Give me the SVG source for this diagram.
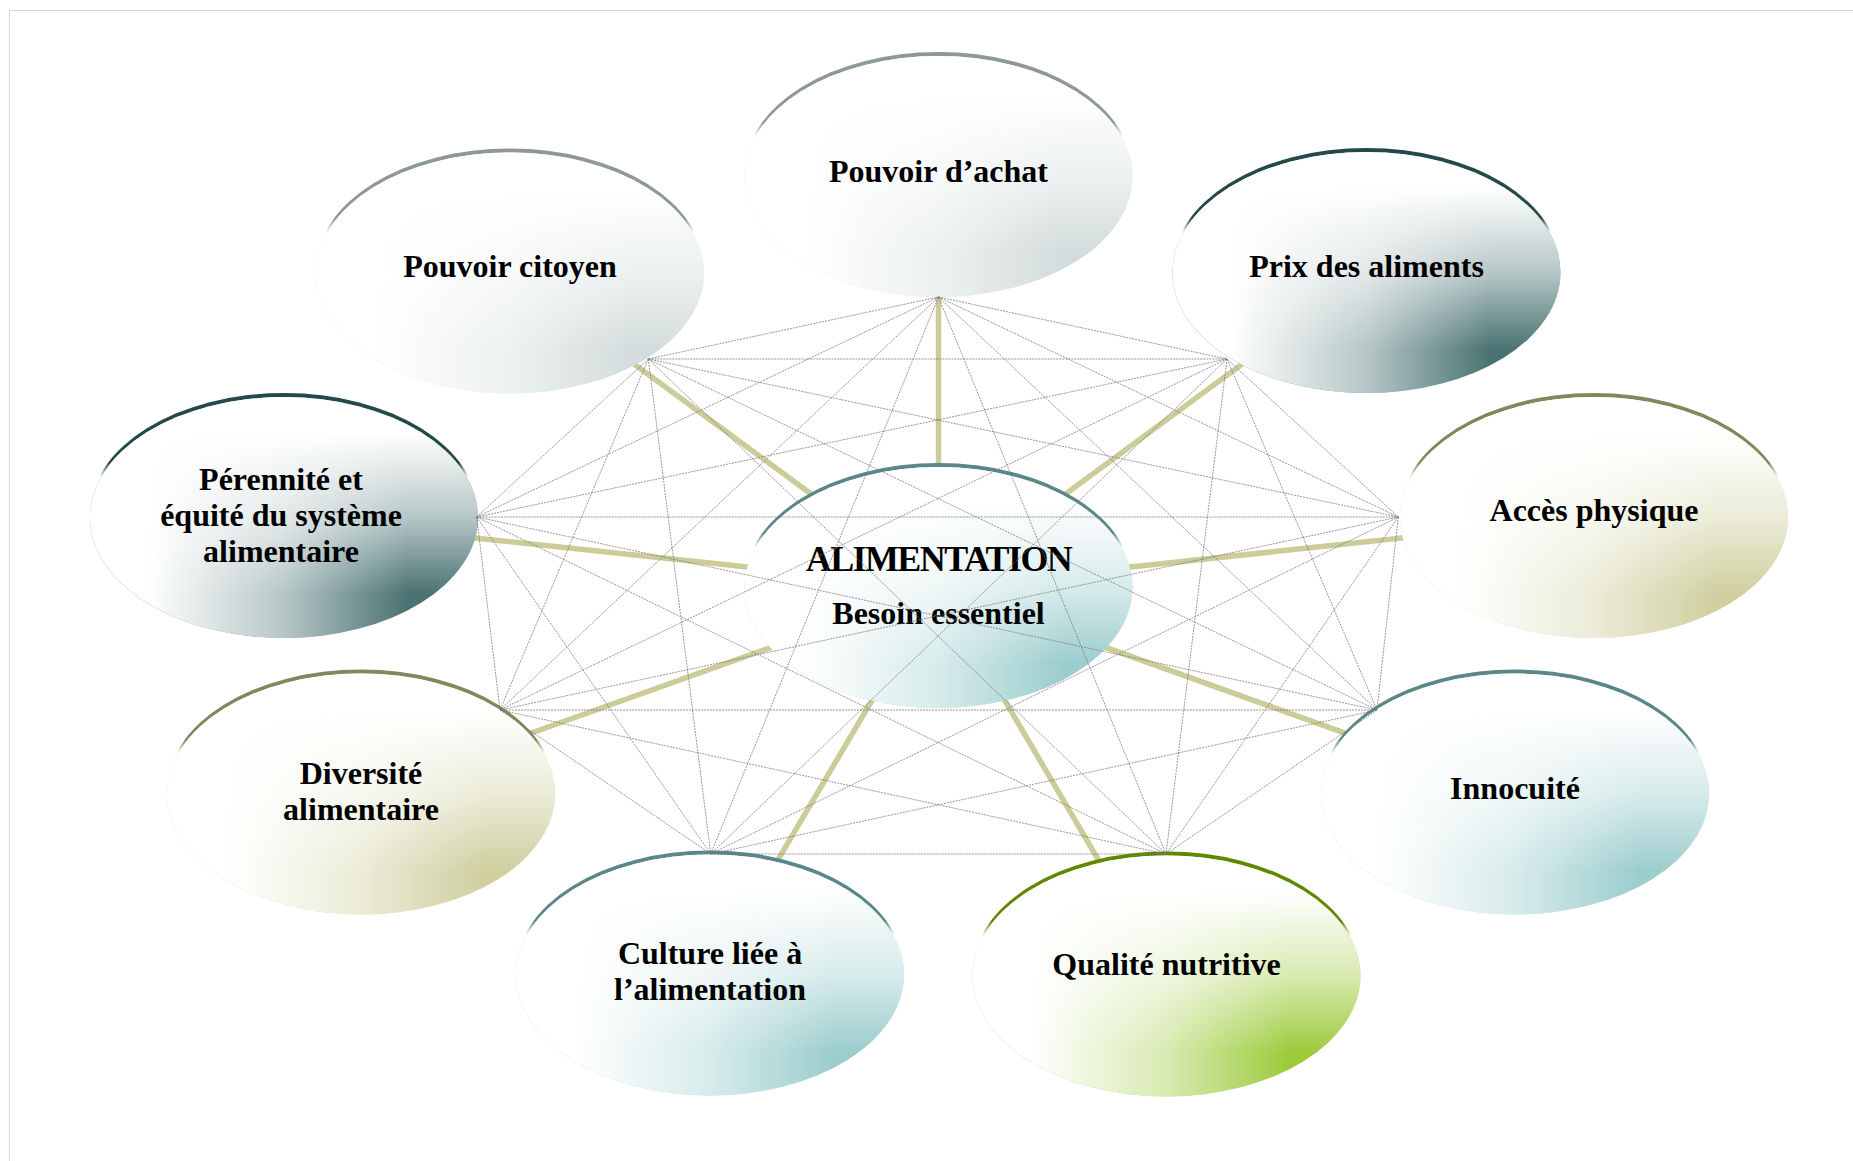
<svg xmlns="http://www.w3.org/2000/svg" xmlns:xlink="http://www.w3.org/1999/xlink" width="1853" height="1161" viewBox="0 0 1853 1161">
  <style>
    .lbl { font-family: "Liberation Serif", "Times New Roman", serif; font-weight: bold; font-size: 32px; text-anchor: middle; fill: #000; }
    .title { font-size: 36px; letter-spacing: -1.6px; }
    .spoke { stroke: #cccc99; stroke-width: 5.5; stroke-linecap: butt; fill: none; }
    .link { stroke: #747474; stroke-width: 0.75; stroke-dasharray: 2 1; fill: none; }
    .frame { fill: none; stroke: #b0b0b0; stroke-width: 1; stroke-dasharray: 1 1; }
  </style>
  <defs>
    <ellipse id="body" cx="0" cy="0" rx="194" ry="120.5"/>
    <linearGradient id="wh" x1="0" y1="0" x2="1" y2="0">
      <stop offset="0.15" stop-color="#fff" stop-opacity="1"/>
      <stop offset="0.5" stop-color="#fff" stop-opacity="0.6"/>
      <stop offset="0.82" stop-color="#fff" stop-opacity="0"/>
    </linearGradient>
    <linearGradient id="wv" x1="0" y1="0" x2="0" y2="1">
      <stop offset="0.15" stop-color="#fff" stop-opacity="1"/>
      <stop offset="0.5" stop-color="#fff" stop-opacity="0.6"/>
      <stop offset="0.82" stop-color="#fff" stop-opacity="0"/>
    </linearGradient>
    <linearGradient id="rim-gray" x1="0" y1="0" x2="0" y2="1">
      <stop offset="0.29" stop-color="#8e9898" stop-opacity="1"/>
      <stop offset="0.35" stop-color="#8e9898" stop-opacity="0"/>
    </linearGradient>
    <linearGradient id="rim-dark" x1="0" y1="0" x2="0" y2="1">
      <stop offset="0.29" stop-color="#264848" stop-opacity="1"/>
      <stop offset="0.35" stop-color="#264848" stop-opacity="0"/>
    </linearGradient>
    <linearGradient id="rim-khaki" x1="0" y1="0" x2="0" y2="1">
      <stop offset="0.29" stop-color="#85855e" stop-opacity="1"/>
      <stop offset="0.35" stop-color="#85855e" stop-opacity="0"/>
    </linearGradient>
    <linearGradient id="rim-teal" x1="0" y1="0" x2="0" y2="1">
      <stop offset="0.29" stop-color="#5a8787" stop-opacity="1"/>
      <stop offset="0.35" stop-color="#5a8787" stop-opacity="0"/>
    </linearGradient>
    <linearGradient id="rim-green" x1="0" y1="0" x2="0" y2="1">
      <stop offset="0.29" stop-color="#5f8800" stop-opacity="1"/>
      <stop offset="0.35" stop-color="#5f8800" stop-opacity="0"/>
    </linearGradient>
  </defs>

  <rect width="1853" height="1161" fill="#fff"/>
  <rect class="frame" x="9.5" y="10.5" width="2000" height="1300"/>

  <g id="spokes">
    <line class="spoke" x1="938.5" y1="176.5" x2="938.5" y2="587.5"/>
    <line class="spoke" x1="510" y1="273" x2="938.5" y2="587.5"/>
    <line class="spoke" x1="1366.5" y1="272.5" x2="938.5" y2="587.5"/>
    <line class="spoke" x1="284" y1="517.5" x2="938.5" y2="587.5"/>
    <line class="spoke" x1="1594" y1="517.5" x2="938.5" y2="587.5"/>
    <line class="spoke" x1="361" y1="794" x2="938.5" y2="587.5"/>
    <line class="spoke" x1="1515" y1="794" x2="938.5" y2="587.5"/>
    <line class="spoke" x1="710" y1="975" x2="938.5" y2="587.5"/>
    <line class="spoke" x1="1166.5" y1="976" x2="938.5" y2="587.5"/>
  </g>

  <g id="node-pouvoir-achat" transform="translate(938.5,176.5)">
    <use href="#body" y="-4" fill="url(#rim-gray)"/>
    <use href="#body" fill="#d3dcdc"/>
    <use href="#body" fill="url(#wh)"/>
    <use href="#body" fill="url(#wv)"/>
    <text class="lbl" x="0" y="5">Pouvoir d’achat</text>
  </g>

  <g id="node-pouvoir-citoyen" transform="translate(510,273)">
    <use href="#body" y="-4" fill="url(#rim-gray)"/>
    <use href="#body" fill="#d3dcdc"/>
    <use href="#body" fill="url(#wh)"/>
    <use href="#body" fill="url(#wv)"/>
    <text class="lbl" x="0" y="4">Pouvoir citoyen</text>
  </g>

  <g id="node-prix" transform="translate(1366.5,272.5)">
    <use href="#body" y="-4" fill="url(#rim-dark)"/>
    <use href="#body" fill="#4a7272"/>
    <use href="#body" fill="url(#wh)"/>
    <use href="#body" fill="url(#wv)"/>
    <text class="lbl" x="0" y="4">Prix des aliments</text>
  </g>

  <g id="node-perennite" transform="translate(284,517.5)">
    <use href="#body" y="-4" fill="url(#rim-dark)"/>
    <use href="#body" fill="#4a7272"/>
    <use href="#body" fill="url(#wh)"/>
    <use href="#body" fill="url(#wv)"/>
    <text class="lbl" x="-3" y="-28">Pérennité et</text>
    <text class="lbl" x="-3" y="8.5">équité du système</text>
    <text class="lbl" x="-3" y="44.5">alimentaire</text>
  </g>

  <g id="node-acces" transform="translate(1594,517.5)">
    <use href="#body" y="-4" fill="url(#rim-khaki)"/>
    <use href="#body" fill="#cfcf9f"/>
    <use href="#body" fill="url(#wh)"/>
    <use href="#body" fill="url(#wv)"/>
    <text class="lbl" x="0" y="3.5">Accès physique</text>
  </g>

  <g id="node-diversite" transform="translate(361,794)">
    <use href="#body" y="-4" fill="url(#rim-khaki)"/>
    <use href="#body" fill="#cfcf9f"/>
    <use href="#body" fill="url(#wh)"/>
    <use href="#body" fill="url(#wv)"/>
    <text class="lbl" x="0" y="-10">Diversité</text>
    <text class="lbl" x="0" y="26">alimentaire</text>
  </g>

  <g id="node-innocuite" transform="translate(1515,794)">
    <use href="#body" y="-4" fill="url(#rim-teal)"/>
    <use href="#body" fill="#9ccdcd"/>
    <use href="#body" fill="url(#wh)"/>
    <use href="#body" fill="url(#wv)"/>
    <text class="lbl" x="0" y="5">Innocuité</text>
  </g>

  <g id="node-culture" transform="translate(710,975)">
    <use href="#body" y="-4" fill="url(#rim-teal)"/>
    <use href="#body" fill="#9ccdcd"/>
    <use href="#body" fill="url(#wh)"/>
    <use href="#body" fill="url(#wv)"/>
    <text class="lbl" x="0" y="-11">Culture liée à</text>
    <text class="lbl" x="0" y="25">l’alimentation</text>
  </g>

  <g id="node-qualite" transform="translate(1166.5,976)">
    <use href="#body" y="-4" fill="url(#rim-green)"/>
    <use href="#body" fill="#9ccb3b"/>
    <use href="#body" fill="url(#wh)"/>
    <use href="#body" fill="url(#wv)"/>
    <text class="lbl" x="0" y="-1">Qualité nutritive</text>
  </g>

  <g id="node-alimentation" transform="translate(938.5,587.5)">
    <use href="#body" y="-4" fill="url(#rim-teal)"/>
    <use href="#body" fill="#9ccdcd"/>
    <use href="#body" fill="url(#wh)"/>
    <use href="#body" fill="url(#wv)"/>
    <text class="lbl title" x="0" y="-17">ALIMENTATION</text>
    <text class="lbl" x="0" y="36">Besoin essentiel</text>
  </g>

  <g id="connectors">
    <line class="link" x1="938.5" y1="297" x2="648.3" y2="359"/>
    <line class="link" x1="938.5" y1="297" x2="1227" y2="359"/>
    <line class="link" x1="938.5" y1="297" x2="476.7" y2="517"/>
    <line class="link" x1="938.5" y1="297" x2="1398.3" y2="517"/>
    <line class="link" x1="938.5" y1="297" x2="500" y2="710"/>
    <line class="link" x1="938.5" y1="297" x2="1377" y2="710"/>
    <line class="link" x1="938.5" y1="297" x2="710.7" y2="854"/>
    <line class="link" x1="938.5" y1="297" x2="1166" y2="854"/>
    <line class="link" x1="648.3" y1="359" x2="1227" y2="359"/>
    <line class="link" x1="648.3" y1="359" x2="476.7" y2="517"/>
    <line class="link" x1="648.3" y1="359" x2="1398.3" y2="517"/>
    <line class="link" x1="648.3" y1="359" x2="500" y2="710"/>
    <line class="link" x1="648.3" y1="359" x2="1377" y2="710"/>
    <line class="link" x1="648.3" y1="359" x2="710.7" y2="854"/>
    <line class="link" x1="648.3" y1="359" x2="1166" y2="854"/>
    <line class="link" x1="1227" y1="359" x2="476.7" y2="517"/>
    <line class="link" x1="1227" y1="359" x2="1398.3" y2="517"/>
    <line class="link" x1="1227" y1="359" x2="500" y2="710"/>
    <line class="link" x1="1227" y1="359" x2="1377" y2="710"/>
    <line class="link" x1="1227" y1="359" x2="710.7" y2="854"/>
    <line class="link" x1="1227" y1="359" x2="1166" y2="854"/>
    <line class="link" x1="476.7" y1="517" x2="1398.3" y2="517"/>
    <line class="link" x1="476.7" y1="517" x2="500" y2="710"/>
    <line class="link" x1="476.7" y1="517" x2="1377" y2="710"/>
    <line class="link" x1="476.7" y1="517" x2="710.7" y2="854"/>
    <line class="link" x1="476.7" y1="517" x2="1166" y2="854"/>
    <line class="link" x1="1398.3" y1="517" x2="500" y2="710"/>
    <line class="link" x1="1398.3" y1="517" x2="1377" y2="710"/>
    <line class="link" x1="1398.3" y1="517" x2="710.7" y2="854"/>
    <line class="link" x1="1398.3" y1="517" x2="1166" y2="854"/>
    <line class="link" x1="500" y1="710" x2="1377" y2="710"/>
    <line class="link" x1="500" y1="710" x2="710.7" y2="854"/>
    <line class="link" x1="500" y1="710" x2="1166" y2="854"/>
    <line class="link" x1="1377" y1="710" x2="710.7" y2="854"/>
    <line class="link" x1="1377" y1="710" x2="1166" y2="854"/>
    <line class="link" x1="710.7" y1="854" x2="1166" y2="854"/>
  </g>
</svg>
